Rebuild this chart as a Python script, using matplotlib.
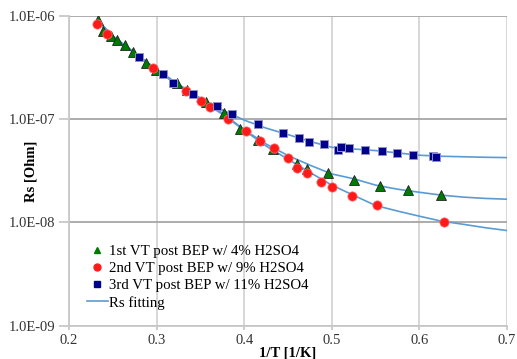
import matplotlib
matplotlib.use("Agg")
import matplotlib.pyplot as plt
from matplotlib.ticker import FixedLocator, FuncFormatter, NullLocator
from matplotlib.lines import Line2D

plt.rcParams['font.family'] = ['Liberation Serif', 'DejaVu Serif']

# 1st VT post BEP w/ 4% H2SO4 (triangles)
x_vt1 = [0.2331, 0.2385, 0.2476, 0.2545, 0.2639, 0.2734, 0.2879, 0.2993, 0.3229, 0.3350,
         0.3564, 0.3769, 0.3952, 0.4152, 0.4332, 0.4599, 0.4713, 0.4962, 0.5257, 0.5548,
         0.5873, 0.6243]
y_vt1 = [9.25e-7, 7.16e-7, 6.45e-7, 5.86e-7, 5.24e-7, 4.51e-7, 3.53e-7, 3.00e-7, 2.26e-7, 1.92e-7,
         1.48e-7, 1.14e-7, 8.00e-8, 6.23e-8, 5.12e-8, 3.69e-8, 3.27e-8, 2.99e-8, 2.60e-8, 2.25e-8,
         2.04e-8, 1.84e-8]

# 2nd VT post BEP w/ 9% H2SO4 (circles)
x_vt2 = [0.2323, 0.2437, 0.2955, 0.3336, 0.3503, 0.3610, 0.3818, 0.4017, 0.4175, 0.4344,
         0.4500, 0.4603, 0.4713, 0.4873, 0.4997, 0.5231, 0.5519, 0.6284]
y_vt2 = [8.31e-7, 6.65e-7, 3.12e-7, 1.89e-7, 1.51e-7, 1.30e-7, 1.00e-7, 7.67e-8, 6.14e-8, 5.22e-8,
         4.19e-8, 3.35e-8, 3.00e-8, 2.46e-8, 2.20e-8, 1.82e-8, 1.46e-8, 1.02e-8]

# 3rd VT post BEP w/ 11% H2SO4 (squares)
x_vt3 = [0.2803, 0.3076, 0.3191, 0.3419, 0.3689, 0.3861, 0.4152, 0.4446, 0.4626, 0.4742,
         0.4911, 0.5068, 0.5103, 0.5200, 0.5381, 0.5575, 0.5744, 0.5930, 0.6152, 0.6189]
y_vt3 = [3.98e-7, 2.74e-7, 2.23e-7, 1.75e-7, 1.35e-7, 1.13e-7, 8.97e-8, 7.29e-8, 6.61e-8, 6.07e-8,
         5.73e-8, 4.99e-8, 5.43e-8, 5.26e-8, 5.04e-8, 4.93e-8, 4.69e-8, 4.51e-8, 4.41e-8, 4.30e-8]

# Rs fitting curves
fit_x = [0.233, 0.25, 0.275, 0.3, 0.325, 0.35, 0.375, 0.4, 0.425, 0.45,
         0.475, 0.5, 0.525, 0.55, 0.575, 0.6, 0.625, 0.65, 0.675, 0.7]
fit_vt1 = [9.1e-7, 6.4e-7, 4.4e-7, 3.0e-7, 2.13e-7, 1.56e-7, 1.15e-7, 7.9e-8, 5.75e-8, 4.45e-8,
           3.59e-8, 2.95e-8, 2.65e-8, 2.3e-8, 2.1e-8, 1.96e-8, 1.84e-8, 1.76e-8, 1.71e-8, 1.68e-8]
fit_vt2 = [8.8e-7, 6.3e-7, 4.35e-7, 2.98e-7, 2.1e-7, 1.53e-7, 1.12e-7, 7.8e-8, 5.5e-8, 4.1e-8,
           3.05e-8, 2.3e-8, 1.83e-8, 1.46e-8, 1.29e-8, 1.15e-8, 1.03e-8, 9.6e-9, 8.9e-9, 8.35e-9]
fit_vt3 = [9.0e-7, 6.3e-7, 4.4e-7, 3.05e-7, 2.18e-7, 1.6e-7, 1.23e-7, 9.8e-8, 8.2e-8, 7.1e-8,
           6.1e-8, 5.35e-8, 5.15e-8, 4.97e-8, 4.72e-8, 4.48e-8, 4.38e-8, 4.33e-8, 4.28e-8, 4.25e-8]

labels = ["1st VT post BEP w/ 4% H2SO4", "2nd VT post BEP w/ 9% H2SO4",
          "3rd VT post BEP w/ 11% H2SO4", "Rs fitting"]

fit_col = "#5b9bd5"

fig = plt.figure(figsize=(5.17, 3.59), dpi=100)
ax = fig.add_axes([0.1335, 0.0928, 0.8472, 0.8626])

for fy in (fit_vt1, fit_vt2, fit_vt3):
    ax.plot(fit_x, fy, color=fit_col, lw=1.2, zorder=2)

ax.plot(x_vt1, y_vt1, ls='none', marker='^', ms=7.5, mfc='#007a00', mec='#222222', mew=0.6, zorder=3)
ax.plot(x_vt2, y_vt2, ls='none', marker='o', ms=6.7, mfc='#ff1a1a', mec='#ff7070', mew=0.5, zorder=3)
ax.plot(x_vt3, y_vt3, ls='none', marker='s', ms=6, mfc='#00008b', mec='#9090c8', mew=0.7, zorder=4)

ax.set_yscale('log')
ax.set_xlim(0.2, 0.7)
ax.set_ylim(1e-9, 1e-6)
ax.xaxis.set_major_locator(FixedLocator([0.2, 0.3, 0.4, 0.5, 0.6, 0.7]))
ax.xaxis.set_major_formatter(FuncFormatter(lambda v, p: f"{v:.1f}"))
ax.yaxis.set_major_locator(FixedLocator([1e-9, 1e-8, 1e-7, 1e-6]))
ax.yaxis.set_major_formatter(FuncFormatter(lambda v, p: f"{v:.1E}"))
ax.yaxis.set_minor_locator(NullLocator())

ax.grid(True, axis='y', color='#a6a6a6', lw=1.3)
ax.grid(True, axis='x', color='#d4d4d4', lw=1.3)
ax.set_axisbelow(True)
for s in ('top', 'right'):
    ax.spines[s].set_visible(False)
ax.spines['left'].set_color('#c8c8c8')
ax.spines['bottom'].set_color('#c8c8c8')
ax.spines['left'].set_linewidth(1.3)
ax.spines['bottom'].set_linewidth(1.3)
ax.tick_params(axis='y', length=7, width=1.3, color='#c8c8c8', labelsize=10.5, pad=3, labelcolor='#333333')
ax.tick_params(axis='x', length=3, width=1.3, color='#c8c8c8', labelsize=10.5, pad=3, labelcolor='#333333')

ax.set_ylabel("Rs [Ohm]", fontweight='bold', fontsize=10.5, va='center')
ax.yaxis.set_label_coords(-0.087, 0.5)
ax.set_xlabel("1/T [1/K]", fontweight='bold', fontsize=10.5, va='center')
ax.xaxis.set_label_coords(0.5, -0.087)

handles = [
    Line2D([], [], ls='none', marker='^', ms=5, mfc='#007a00', mec='#007a00'),
    Line2D([], [], ls='none', marker='o', ms=5, mfc='#ff1a1a', mec='#ff1a1a'),
    Line2D([], [], ls='none', marker='s', ms=4.5, mfc='#00008b', mec='#00008b'),
    Line2D([], [], color=fit_col, lw=1.2),
]
ax.legend(handles, labels, loc='upper left', bbox_to_anchor=(0.041, 0.261), frameon=False,
          fontsize=10.7, handlelength=1.4, handletextpad=0.1, labelspacing=0.24,
          borderaxespad=0, borderpad=0)

fig.savefig("out.png", dpi=100)
